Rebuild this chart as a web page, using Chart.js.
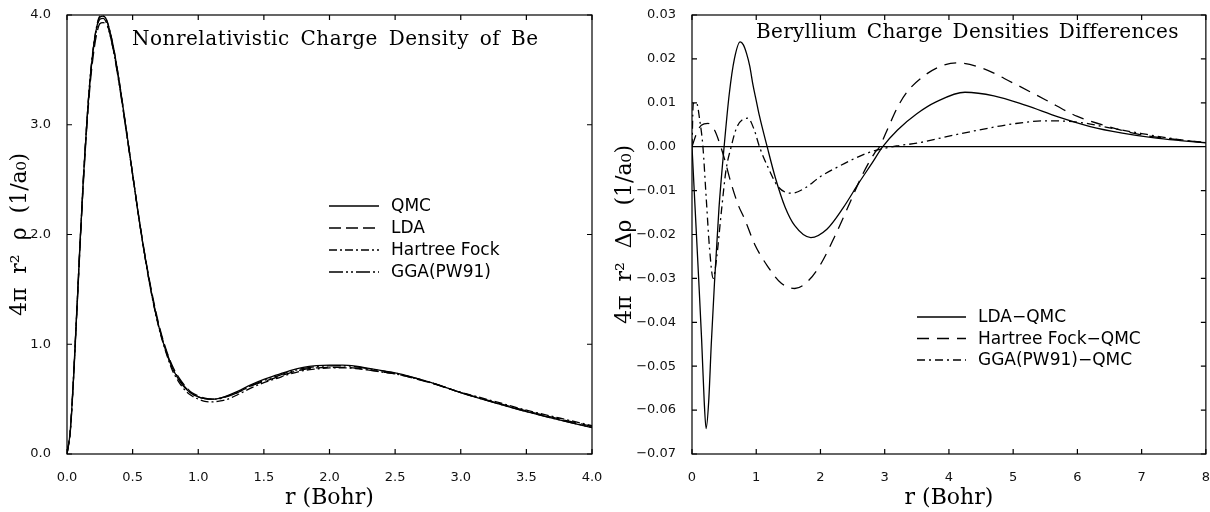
<!DOCTYPE html>
<html>
<head>
<meta charset="utf-8">
<script src="https://cdn.jsdelivr.net/npm/chart.js@4.4.1/dist/chart.umd.min.js"></script>
<style>
  html, body { margin: 0; padding: 0; background: #fff; }
  .box { position: absolute; top: 0; width: 605px; height: 512px; }
</style>
</head>
<body>
<div class="box" style="left:0"><canvas id="densityChart" width="605" height="512"></canvas></div>
<div class="box" style="left:605px"><canvas id="diffChart" width="605" height="512"></canvas></div>
<script>
// left panel: 4 pi r^2 rho
const rDensity = [0, 0.025, 0.05, 0.075, 0.1, 0.125, 0.15, 0.175, 0.2, 0.225, 0.25, 0.275, 0.3, 0.35, 0.4, 0.45, 0.5, 0.55, 0.6, 0.65, 0.7, 0.75, 0.8, 0.85, 0.9, 0.95, 1.0, 1.05, 1.1, 1.15, 1.2, 1.3, 1.4, 1.5, 1.6, 1.7, 1.8, 1.9, 2.0, 2.1, 2.2, 2.3, 2.4, 2.5, 2.75, 3.0, 3.25, 3.5, 3.75, 4.0];
const qmc = [0, 0.21, 0.70, 1.31, 1.93, 2.51, 3.00, 3.40, 3.69, 3.88, 3.98, 3.99, 3.96, 3.73, 3.38, 2.97, 2.55, 2.13, 1.76, 1.43, 1.16, 0.95, 0.79, 0.68, 0.60, 0.55, 0.52, 0.505, 0.50, 0.505, 0.52, 0.57, 0.63, 0.68, 0.72, 0.76, 0.79, 0.805, 0.81, 0.81, 0.80, 0.78, 0.76, 0.74, 0.66, 0.56, 0.47, 0.385, 0.31, 0.24];
const lda = [0, 0.20, 0.69, 1.29, 1.90, 2.47, 2.96, 3.35, 3.63, 3.82, 3.92, 3.93, 3.92, 3.70, 3.36, 2.96, 2.55, 2.14, 1.77, 1.45, 1.18, 0.97, 0.81, 0.70, 0.62, 0.56, 0.53, 0.51, 0.50, 0.505, 0.52, 0.56, 0.62, 0.66, 0.70, 0.74, 0.77, 0.785, 0.79, 0.79, 0.783, 0.765, 0.748, 0.73, 0.655, 0.56, 0.475, 0.393, 0.32, 0.252];
const hartreeFock = [0, 0.21, 0.70, 1.31, 1.93, 2.51, 3.00, 3.41, 3.70, 3.89, 3.99, 3.99, 3.96, 3.73, 3.38, 2.97, 2.55, 2.13, 1.75, 1.42, 1.15, 0.94, 0.77, 0.66, 0.58, 0.53, 0.50, 0.48, 0.475, 0.48, 0.49, 0.54, 0.60, 0.65, 0.69, 0.73, 0.76, 0.775, 0.785, 0.786, 0.779, 0.764, 0.746, 0.73, 0.657, 0.563, 0.482, 0.40, 0.328, 0.259];
const gga = [0, 0.22, 0.71, 1.32, 1.94, 2.52, 3.00, 3.40, 3.68, 3.87, 3.96, 3.97, 3.93, 3.70, 3.35, 2.95, 2.54, 2.13, 1.76, 1.43, 1.16, 0.96, 0.80, 0.69, 0.61, 0.55, 0.52, 0.505, 0.50, 0.50, 0.515, 0.56, 0.62, 0.67, 0.71, 0.75, 0.78, 0.797, 0.803, 0.804, 0.795, 0.776, 0.757, 0.738, 0.659, 0.56, 0.47, 0.386, 0.312, 0.242];
const densityXTicks = [0, 0.5, 1.0, 1.5, 2.0, 2.5, 3.0, 3.5, 4.0];
const densityYTicks = [0, 1, 2, 3, 4];

// right panel: differences to QMC
const rLdaQmc = [0, 0.05, 0.1, 0.15, 0.19, 0.22, 0.26, 0.3, 0.35, 0.42, 0.5, 0.58, 0.66, 0.75, 0.8, 0.85, 0.9, 0.95, 1.0, 1.05, 1.17, 1.3, 1.45, 1.6, 1.85, 2.1, 2.35, 2.6, 2.8, 2.97, 3.2, 3.5, 3.8, 4.25, 4.7, 5.2, 5.7, 6.2, 6.7, 7.2, 7.6, 8.0];
const ldaQmc = [0, -0.0145, -0.029, -0.044, -0.058, -0.0642, -0.058, -0.045, -0.031, -0.014, 0, 0.012, 0.020, 0.0239, 0.0232, 0.0212, 0.0183, 0.0140, 0.0105, 0.0070, 0, -0.0072, -0.0138, -0.0180, -0.0207, -0.0188, -0.014, -0.0082, -0.0038, 0, 0.0038, 0.0075, 0.0102, 0.0124, 0.0116, 0.0094, 0.0068, 0.0046, 0.0031, 0.0020, 0.0014, 0.0009];
const rHfQmc = [0, 0.07, 0.145, 0.25, 0.35, 0.43, 0.51, 0.61, 0.72, 0.82, 0.975, 1.18, 1.39, 1.6, 1.8, 2.01, 2.22, 2.43, 2.64, 2.84, 2.92, 3.05, 3.2, 3.35, 3.6, 3.85, 4.12, 4.5, 5.0, 5.5, 6.0, 6.5, 7.0, 7.5, 8.0];
const hfQmc = [0, 0.0030, 0.0049, 0.0053, 0.0038, 0.0008, -0.0030, -0.0084, -0.0133, -0.0165, -0.0222, -0.0273, -0.0311, -0.0323, -0.0307, -0.0266, -0.0205, -0.0137, -0.0068, -0.0015, 0, 0.0042, 0.0090, 0.0125, 0.0160, 0.0182, 0.0191, 0.0180, 0.0145, 0.0107, 0.0069, 0.0045, 0.0027, 0.0017, 0.0009];
const rGgaQmc = [0, 0.02, 0.07, 0.12, 0.17, 0.22, 0.275, 0.33, 0.38, 0.46, 0.53, 0.61, 0.7, 0.87, 0.97, 1.05, 1.18, 1.34, 1.55, 1.75, 2.0, 2.27, 2.53, 2.8, 3.2, 3.5, 4.0, 4.5, 5.0, 5.5, 6.0, 6.5, 7.0, 7.5, 8.0];
const ggaQmc = [0, 0.0098, 0.0100, 0.0061, 0, -0.0114, -0.0235, -0.0300, -0.0258, -0.0144, -0.0053, 0, 0.0045, 0.0065, 0.0038, 0, -0.0046, -0.0091, -0.0106, -0.0095, -0.0068, -0.0046, -0.0027, -0.0011, 0.0002, 0.0008, 0.0024, 0.0039, 0.0052, 0.0059, 0.0056, 0.0043, 0.0030, 0.0018, 0.0009];
const diffXTicks = [0, 1, 2, 3, 4, 5, 6, 7, 8];
const diffYTicks = [-0.07, -0.06, -0.05, -0.04, -0.03, -0.02, -0.01, 0, 0.01, 0.02, 0.03];

const pts = (xs, ys) => xs.map((x, i) => ({ x, y: ys[i] }));

const line = (label, data, dash) => ({
  label,
  data,
  borderColor: "#000",
  borderWidth: 1.3,
  borderDash: dash,
  pointRadius: 0,
  fill: false,
  cubicInterpolationMode: "monotone",
});

// box round the plot with inward ticks on all four sides
const framePlugin = {
  id: "frame",
  afterDatasetsDraw(chart, args, opts) {
    const { ctx, chartArea: a, scales: { x, y } } = chart;
    ctx.save();
    ctx.strokeStyle = "#000";
    ctx.lineWidth = 1.2;
    ctx.setLineDash([]);
    ctx.beginPath();
    if (opts.zeroLine) {
      const y0 = y.getPixelForValue(0);
      ctx.moveTo(a.left, y0);
      ctx.lineTo(a.right, y0);
    }
    x.ticks.forEach((t) => {
      const px = x.getPixelForValue(t.value);
      ctx.moveTo(px, a.bottom); ctx.lineTo(px, a.bottom - 5);
      ctx.moveTo(px, a.top); ctx.lineTo(px, a.top + 5);
    });
    y.ticks.forEach((t) => {
      const py = y.getPixelForValue(t.value);
      ctx.moveTo(a.left, py); ctx.lineTo(a.left + 5, py);
      ctx.moveTo(a.right, py); ctx.lineTo(a.right - 5, py);
    });
    ctx.stroke();
    ctx.strokeRect(a.left, a.top, a.right - a.left, a.bottom - a.top);
    ctx.restore();
  },
};

// in-plot title and legend
const notesPlugin = {
  id: "notes",
  afterDraw(chart, args, opts) {
    const { ctx, chartArea: a } = chart;
    ctx.save();
    ctx.fillStyle = "#000";
    ctx.strokeStyle = "#000";
    ctx.font = opts.titleFont;
    ctx.letterSpacing = opts.letterSpacing;
    ctx.wordSpacing = opts.wordSpacing;
    ctx.textBaseline = "alphabetic";
    ctx.fillText(opts.title, a.left + opts.titleX, a.top + opts.titleY);
    ctx.letterSpacing = "0px";
    ctx.wordSpacing = "0px";

    ctx.font = opts.legendFont;
    ctx.textBaseline = "middle";
    chart.data.datasets.forEach((ds, i) => {
      const yy = a.top + opts.legendY + i * opts.legendGap;
      const x0 = a.left + opts.legendX;
      ctx.lineWidth = ds.borderWidth;
      ctx.setLineDash(ds.borderDash || []);
      ctx.beginPath();
      ctx.moveTo(x0, yy);
      ctx.lineTo(x0 + opts.lineLen, yy);
      ctx.stroke();
      ctx.setLineDash([]);
      ctx.fillText(ds.label, x0 + opts.lineLen + opts.textGap, yy + 1);
    });
    ctx.restore();
  },
};

const tickFont = { family: "DejaVu Sans", size: 13 };
const titleFont = { family: "DejaVu Serif", size: 22 };

// tick padding is done with an invisible tick length so it does not eat the plot area
const axis = (min, max, ticks, fmt, extra) => ({
  type: "linear",
  min,
  max,
  afterBuildTicks: (s) => { s.ticks = ticks.map((v) => ({ value: v })); },
  grid: { display: false, drawTicks: true, tickLength: 16 },
  border: { display: false },
  ticks: { padding: 0, autoSkip: false, maxRotation: 0, font: tickFont, color: "#111", callback: fmt },
  ...extra,
});

const minus = (v, d) => {
  const s = (Math.abs(v) < 1e-9 ? 0 : v).toFixed(d);
  return s.replace("-", "\u2212");
};

const renderDensityChart = () => {
  const data = {
    datasets: [
      line("QMC", pts(rDensity, qmc), []),
      line("LDA", pts(rDensity, lda), [12, 5]),
      line("Hartree Fock", pts(rDensity, hartreeFock), [8, 3, 2, 3]),
      line("GGA(PW91)", pts(rDensity, gga), [14, 3, 2, 3, 2, 3]),
    ],
  };

  const options = {
    responsive: false,
    animation: false,
    devicePixelRatio: 1,
    layout: { padding: { left: 0, right: 13, top: 15, bottom: 0 } },
    scales: {
      x: axis(0, 4, densityXTicks, (v) => v.toFixed(1), {
        afterFit: (s) => { s.height = 58; },
        title: { display: true, text: "r (Bohr)", font: titleFont, color: "#000", padding: { top: 0, bottom: 1 } },
      }),
      y: axis(0, 4, densityYTicks, (v) => v.toFixed(1), {
        afterFit: (s) => { s.width = 67; },
        title: { display: true, text: "4\u03c0  r\u00b2  \u03c1  (1/a\u2080)", font: titleFont, color: "#000", padding: { top: 7, bottom: 0 } },
      }),
    },
    plugins: {
      legend: { display: false },
      tooltip: { enabled: false },
      frame: { zeroLine: false },
      notes: {
        title: "Nonrelativistic Charge Density of Be",
        titleFont: "20px 'DejaVu Serif'",
        letterSpacing: "0.5px",
        wordSpacing: "4px",
        titleX: 65,
        titleY: 30,
        legendFont: "17px 'DejaVu Sans'",
        legendX: 262,
        legendY: 191,
        legendGap: 22,
        lineLen: 50,
        textGap: 12,
      },
    },
  };

  new Chart("densityChart", { type: "line", data, options, plugins: [framePlugin, notesPlugin] });
};

const renderDiffChart = () => {
  const data = {
    datasets: [
      line("LDA\u2212QMC", pts(rLdaQmc, ldaQmc), []),
      line("Hartree Fock\u2212QMC", pts(rHfQmc, hfQmc), [12, 8]),
      line("GGA(PW91)\u2212QMC", pts(rGgaQmc, ggaQmc), [8, 4, 2, 4]),
    ],
  };

  const options = {
    responsive: false,
    animation: false,
    devicePixelRatio: 1,
    layout: { padding: { left: 0, right: 4, top: 15, bottom: 0 } },
    scales: {
      x: axis(0, 8, diffXTicks, (v) => v.toFixed(0), {
        afterFit: (s) => { s.height = 58; },
        title: { display: true, text: "r (Bohr)", font: titleFont, color: "#000", padding: { top: 0, bottom: 1 } },
      }),
      y: axis(-0.07, 0.03, diffYTicks, (v) => minus(v, 2), {
        afterFit: (s) => { s.width = 87; },
        title: { display: true, text: "4\u03c0  r\u00b2  \u0394\u03c1  (1/a\u2080)", font: titleFont, color: "#000", padding: { top: 7, bottom: 0 } },
      }),
    },
    plugins: {
      legend: { display: false },
      tooltip: { enabled: false },
      frame: { zeroLine: true },
      notes: {
        title: "Beryllium Charge Densities Differences",
        titleFont: "20px 'DejaVu Serif'",
        letterSpacing: "0.3px",
        wordSpacing: "3px",
        titleX: 64,
        titleY: 23,
        legendFont: "17px 'DejaVu Sans'",
        legendX: 225,
        legendY: 302,
        legendGap: 21.5,
        lineLen: 49,
        textGap: 12,
      },
    },
  };

  new Chart("diffChart", { type: "line", data, options, plugins: [framePlugin, notesPlugin] });
};

renderDensityChart();
renderDiffChart();
</script>
</body>
</html>
